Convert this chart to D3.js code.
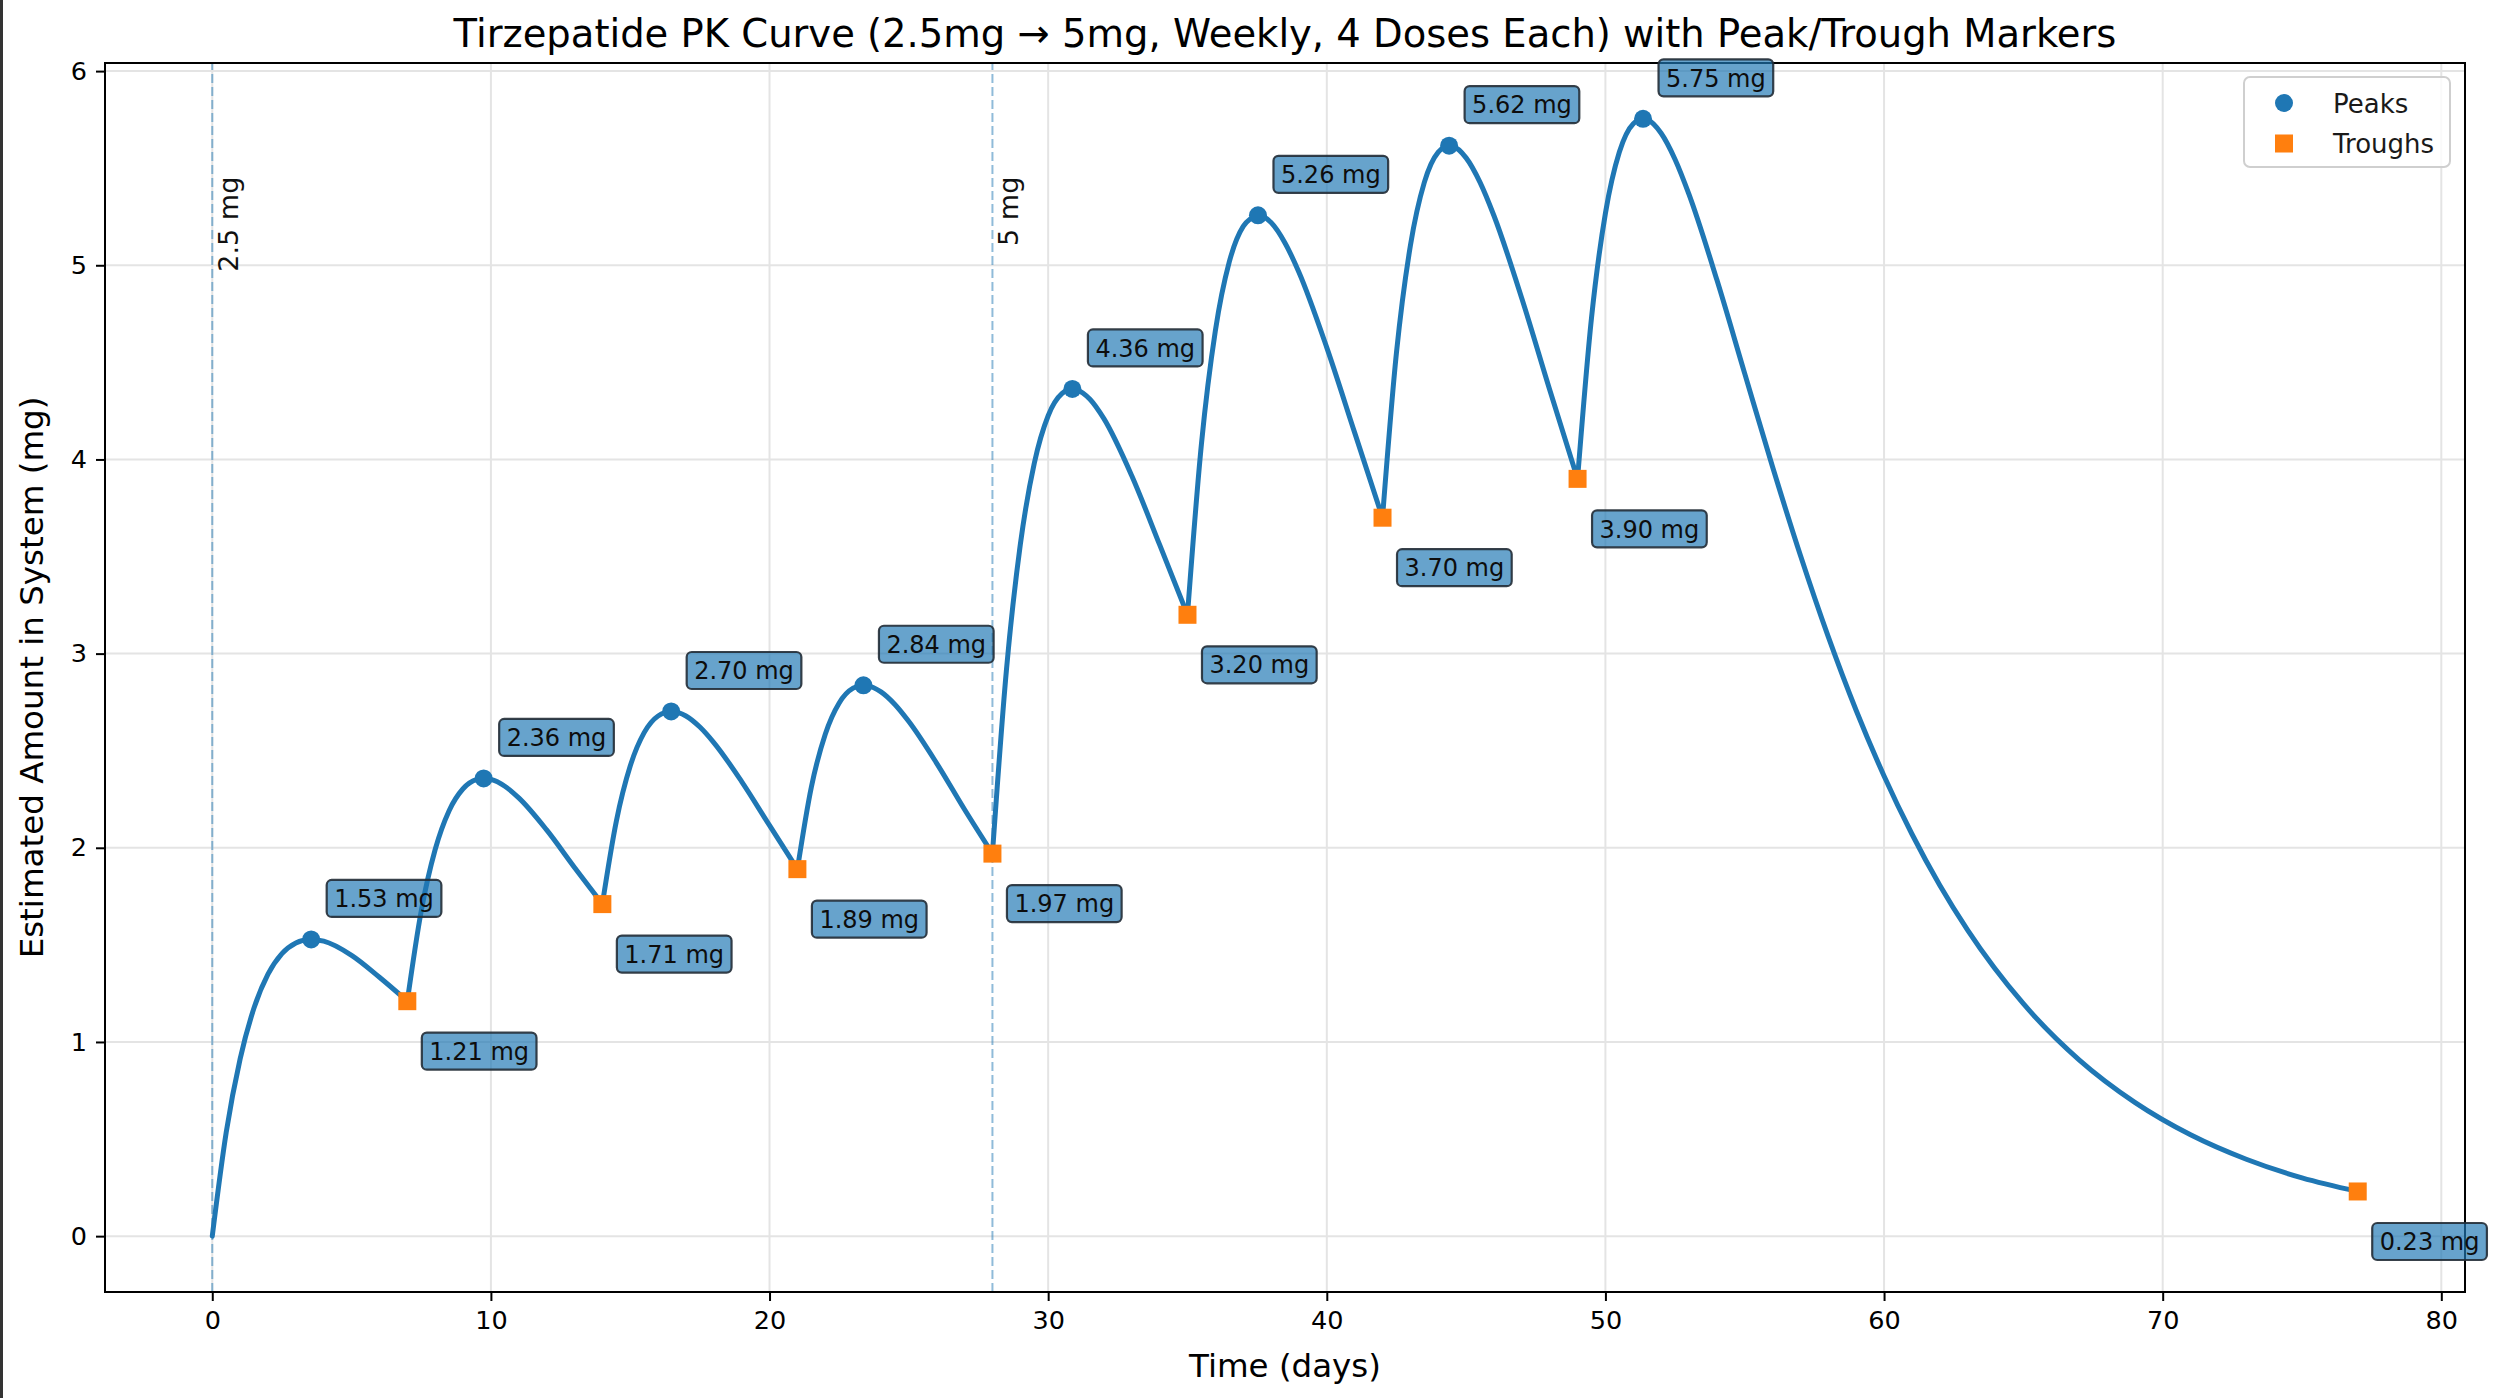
<!DOCTYPE html>
<html><head><meta charset="utf-8">
<script src="https://cdn.jsdelivr.net/npm/d3@7"></script>
<style>html,body{margin:0;padding:0;background:#fff;} svg{display:block;font-family:"DejaVu Sans",sans-serif;}</style>
</head><body><svg id="chart" width="2500" height="1398"></svg>
<script>
const titleText = "Tirzepatide PK Curve (2.5mg \u2192 5mg, Weekly, 4 Doses Each) with Peak/Trough Markers";
const xLabel = "Time (days)";
const yLabel = "Estimated Amount in System (mg)";
const doseDays = [0, 7, 14, 21, 28, 35, 42, 49];
const doseMg = [2.5, 2.5, 2.5, 2.5, 5, 5, 5, 5];
const doseLineDays = [0, 28];
const doseLineLabels = ["2.5 mg", "5 mg"];
const curveDays = [
  0,0.5,1,1.5,2,2.5,3,3.5,4,5,6,
  7,7.5,8,8.5,9,9.5,10,10.5,11,12,13,
  14,14.5,15,15.5,16,16.5,17,17.5,18,19,20,
  21,21.5,22,22.5,23,23.5,24,24.5,25,26,27,
  28,28.5,29,29.5,30,30.5,31,31.5,32,33,34,
  35,35.5,36,36.5,37,37.5,38,38.5,39,40,41,
  42,42.5,43,43.5,44,44.5,45,45.5,46,47,48,
  49,49.5,50,50.5,51,51.5,52,52.5,53,54,55,56,57,58,59,60,61,62,63,65,67,69,71,73,75,77];
const curveMg = [
  0,0.534,0.913,1.176,1.349,1.455,1.510,1.528,1.519,1.446,1.333,
  1.21,1.675,1.991,2.191,2.304,2.352,2.352,2.317,2.257,2.092,1.899,
  1.71,2.136,2.421,2.593,2.679,2.702,2.679,2.622,2.542,2.341,2.115,
  1.89,2.312,2.585,2.746,2.822,2.835,2.803,2.738,2.650,2.435,2.197,
  1.97,2.912,3.561,3.979,4.225,4.340,4.360,4.310,4.210,3.916,3.561,
  3.20,4.078,4.662,5.017,5.200,5.256,5.220,5.115,4.964,4.576,4.138,
  3.70,4.549,5.101,5.427,5.583,5.614,5.553,5.427,5.255,4.829,4.359,
  3.90,4.728,5.268,5.583,5.729,5.750,5.680,5.545,5.365,4.925,4.442,3.961,3.505,3.086,2.707,2.370,2.071,1.807,1.576,1.197,0.908,0.689,0.522,0.396,0.300,0.23];
const peakDays = [3.55, 9.74, 16.47, 23.37, 30.87, 37.53, 44.39, 51.35];
const peakMg = [1.528, 2.357, 2.702, 2.837, 4.363, 5.257, 5.616, 5.754];
const troughDays = [7, 14, 21, 28, 35, 42, 49, 77];
const troughMg = [1.21, 1.71, 1.89, 1.97, 3.20, 3.70, 3.90, 0.23];
const xTicks = [0, 10, 20, 30, 40, 50, 60, 70, 80];
const yTicks = [0, 1, 2, 3, 4, 5, 6];
const legendLabels = ["Peaks", "Troughs"];

const BLUE = "#1f77b4", ORANGE = "#ff7f0e";
const W = 2500, H = 1398;
const m = {left: 105, right: 35, top: 63, bottom: 106};
const svg = d3.select("#chart");
svg.append("rect").attr("width", W).attr("height", H).attr("fill", "#fff");

// matplotlib-like 5% margins
const xExt = d3.extent(curveDays), yExt = [0, d3.max(peakMg)];
const xPad = (xExt[1] - xExt[0]) * 0.05, yPad = (yExt[1] - yExt[0]) * 0.05;
const x = d3.scaleLinear().domain([xExt[0] - xPad, xExt[1] + xPad]).range([m.left, W - m.right]);
const y = d3.scaleLinear().domain([yExt[0] - yPad, yExt[1] + yPad]).range([H - m.bottom, m.top]);
const x0 = m.left, x1 = W - m.right, y0 = H - m.bottom, y1 = m.top;

// grid
const grid = svg.append("g");
grid.selectAll(".gx").data(xTicks).join("line")
  .attr("x1", d => x(d)).attr("x2", d => x(d)).attr("y1", y0).attr("y2", y1)
  .attr("stroke", "#e4e4e4").attr("stroke-width", 2);
grid.selectAll(".gy").data(yTicks).join("line")
  .attr("y1", d => y(d)).attr("y2", d => y(d)).attr("x1", x0).attr("x2", x1)
  .attr("stroke", "#e4e4e4").attr("stroke-width", 2);

// dose change lines
const dl = svg.append("g");
dl.selectAll("line").data(doseLineDays).join("line")
  .attr("x1", d => x(d)).attr("x2", d => x(d)).attr("y1", y0).attr("y2", y1)
  .attr("stroke", BLUE).attr("stroke-opacity", 0.5).attr("stroke-width", 2)
  .attr("stroke-dasharray", "9,4");
const labelY = y(d3.max(peakMg) * 0.95) + 2;
dl.selectAll("text").data(doseLineDays).join("text")
  .attr("transform", d => `translate(${x(d) + 25.5},${labelY}) rotate(-90)`)
  .attr("text-anchor", "end").attr("font-size", 27).attr("fill", "#111")
  .text((d, i) => doseLineLabels[i]);

// curve: one smooth piece per dosing interval (cusp at each dose)
const pts = curveDays.map((d, i) => ({t: d, v: curveMg[i]}))
  .concat(peakDays.map((d, i) => ({t: d, v: peakMg[i]})))
  .sort((a, b) => a.t - b.t);
const line = d3.line().x(d => x(d.t)).y(d => y(d.v)).curve(d3.curveMonotoneX);
const cg = svg.append("g");
doseDays.forEach((d, i) => {
  const end = i < doseDays.length - 1 ? doseDays[i + 1] : Infinity;
  const seg = pts.filter(p => p.t >= d && p.t <= end);
  cg.append("path").attr("d", line(seg)).attr("fill", "none")
    .attr("stroke", BLUE).attr("stroke-width", 5)
    .attr("stroke-linecap", "round").attr("stroke-linejoin", "round");
});

// markers
svg.append("g").selectAll("circle").data(peakDays).join("circle")
  .attr("cx", d => x(d)).attr("cy", (d, i) => y(peakMg[i])).attr("r", 9).attr("fill", BLUE);
const sq = 18;
svg.append("g").selectAll("rect").data(troughDays).join("rect")
  .attr("x", d => x(d) - sq / 2).attr("y", (d, i) => y(troughMg[i]) - sq / 2)
  .attr("width", sq).attr("height", sq).attr("fill", ORANGE);

// spines & ticks
const ax = svg.append("g");
ax.append("rect").attr("x", x0).attr("y", y1).attr("width", x1 - x0).attr("height", y0 - y1)
  .attr("fill", "none").attr("stroke", "#000").attr("stroke-width", 2);
const xa = ax.append("g").attr("transform", `translate(0,${y0})`)
  .call(d3.axisBottom(x).tickValues(xTicks).tickFormat(d3.format("d")).tickSize(9).tickPadding(9));
const ya = ax.append("g").attr("transform", `translate(${x0},0)`)
  .call(d3.axisLeft(y).tickValues(yTicks).tickFormat(d3.format("d")).tickSize(9).tickPadding(9));
[xa, ya].forEach(g => {
  g.select(".domain").remove();
  g.selectAll(".tick line").attr("stroke", "#000").attr("stroke-width", 2);
  g.selectAll(".tick text").attr("font-size", 25.5).attr("fill", "#000")
    .attr("font-family", "DejaVu Sans");
});
xa.selectAll(".tick text").attr("dy", "0.76em");

// annotations
const ann = svg.append("g");
function addLabel(px, py, txt, dx, dy) {
  const g = ann.append("g");
  const t = g.append("text").attr("x", px + dx).attr("y", py + dy + 8.7)
    .attr("font-size", 24).attr("fill", "#0d0d0d").text(txt);
  const w = t.node().getComputedTextLength();
  const pad = 7.5, h = 37;
  g.insert("rect", "text").attr("x", px + dx - pad).attr("y", py + dy - h / 2)
    .attr("width", w + 2 * pad).attr("height", h).attr("rx", 5)
    .attr("fill", BLUE).attr("fill-opacity", 0.68)
    .attr("stroke", "#222c36").attr("stroke-opacity", 0.9).attr("stroke-width", 2.2);
}
peakDays.forEach((d, i) => addLabel(x(d), y(peakMg[i]), peakMg[i].toFixed(2) + " mg", 23, -41));
troughDays.forEach((d, i) => addLabel(x(d), y(troughMg[i]), troughMg[i].toFixed(2) + " mg", 22, 50));

// title and axis labels
svg.append("text").attr("x", (x0 + x1) / 2).attr("y", 46.5).attr("text-anchor", "middle")
  .attr("font-size", 38.5).attr("fill", "#000").text(titleText);
svg.append("text").attr("x", (x0 + x1) / 2).attr("y", 1376.5).attr("text-anchor", "middle")
  .attr("font-size", 32.5).attr("fill", "#000").text(xLabel);
svg.append("text").attr("transform", `translate(43,${(y0 + y1) / 2}) rotate(-90)`)
  .attr("text-anchor", "middle").attr("font-size", 32.5).attr("fill", "#000").text(yLabel);

// legend
const lg = svg.append("g").attr("transform", `translate(${x1 - 15 - 206},${y1 + 14})`);
lg.append("rect").attr("width", 206).attr("height", 90).attr("rx", 6)
  .attr("fill", "#fff").attr("fill-opacity", 0.8).attr("stroke", "#cfcfcf").attr("stroke-width", 2);
lg.append("circle").attr("cx", 40).attr("cy", 26).attr("r", 9).attr("fill", BLUE);
lg.append("rect").attr("x", 40 - sq / 2).attr("y", 66.5 - sq / 2).attr("width", sq).attr("height", sq).attr("fill", ORANGE);
lg.selectAll("text").data(legendLabels).join("text")
  .attr("x", 89).attr("y", (d, i) => 26 + i * 40.5 + 9.5).attr("font-size", 26).attr("fill", "#1a1a1a")
  .text(d => d);

// left edge border seen in the reference picture
svg.append("line").attr("x1", 1.5).attr("x2", 1.5).attr("y1", 0).attr("y2", H)
  .attr("stroke", "#333").attr("stroke-width", 3);
</script></body></html>
